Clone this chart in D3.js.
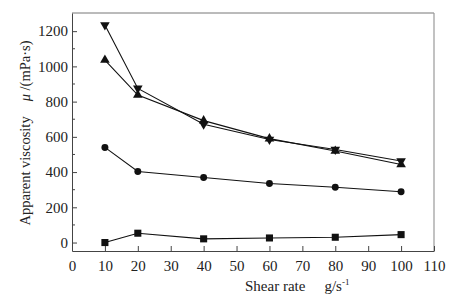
<!DOCTYPE html>
<html>
<head>
<meta charset="utf-8">
<script src="https://cdn.jsdelivr.net/npm/d3@7"></script>
<style>
body { margin: 0; background: #fff; }
svg text { font-family: 'Liberation Serif', 'Times New Roman', serif; }
</style>
</head>
<body>
<svg id="chart" width="457" height="301"></svg>
<script>
// shear rate values (x)
const shearRates = [10, 20, 40, 60, 80, 100];
// apparent viscosity, one array per curve
const downTriangleSeries = [1235, 875, 672, 585, 528, 463];
const upTriangleSeries = [1036, 837, 692, 590, 520, 443];
const circleSeries = [540, 403, 369, 335, 314, 288];
const squareSeries = [0, 53, 21, 26, 30, 45];
const xTicks = [0, 10, 20, 30, 40, 50, 60, 70, 80, 90, 100, 110];
const yTicks = [0, 200, 400, 600, 800, 1000, 1200];
const yMinorTicks = [100, 300, 500, 700, 900, 1100];

var svg = d3.select("#chart");
var margin = {top: 13, right: 23, bottom: 50, left: 72};
var width = 457 - margin.left - margin.right;
var height = 301 - margin.top - margin.bottom;

var g = svg.append("g")
    .attr("transform", "translate(" + margin.left + "," + margin.top + ")");

var x = d3.scaleLinear().domain([0, 110]).range([0, width]);
var y = d3.scaleLinear().domain([-48, 1303]).range([height, 0]);

// frame
g.append("line").attr("x1", 0).attr("x2", width).attr("y1", 0).attr("y2", 0)
    .attr("stroke", "#777").attr("stroke-width", 1);
g.append("line").attr("x1", width).attr("x2", width).attr("y1", 0).attr("y2", height)
    .attr("stroke", "#999").attr("stroke-width", 1.2);

var xAxis = g.append("g")
    .attr("transform", "translate(0," + height + ")")
    .call(d3.axisBottom(x).tickValues(xTicks).tickFormat(d3.format("d"))
        .tickSize(-5).tickPadding(9).tickSizeOuter(0))
    .attr("font-size", 15);
xAxis.select(".domain").attr("stroke", "#444");
xAxis.selectAll(".tick line").attr("stroke", "#444");
xAxis.selectAll("text").attr("fill", "#222");

var yAxis = g.append("g")
    .call(d3.axisLeft(y).tickValues(yTicks).tickFormat(d3.format("d"))
        .tickSize(-5).tickPadding(4).tickSizeOuter(0))
    .attr("font-size", 15);
yAxis.select(".domain").attr("stroke", "#444");
yAxis.selectAll(".tick line").attr("stroke", "#444");
yAxis.selectAll("text").attr("fill", "#222");

g.selectAll(".yminor")
    .data(yMinorTicks)
    .enter()
    .append("line")
    .attr("class", "yminor")
    .attr("x1", 0).attr("x2", 3)
    .attr("y1", d => y(d)).attr("y2", d => y(d))
    .attr("stroke", "#444");

var line = d3.line()
    .x((d, i) => x(shearRates[i]))
    .y(d => y(d));

var series = [
    {values: squareSeries, symbol: d3.symbolSquare, size: 50, rot: 0},
    {values: circleSeries, symbol: d3.symbolCircle, size: 38, rot: 0},
    {values: upTriangleSeries, symbol: d3.symbolTriangle, size: 40, rot: 0},
    {values: downTriangleSeries, symbol: d3.symbolTriangle, size: 40, rot: 180}
];

series.forEach(s => {
    g.append("path")
        .datum(s.values)
        .attr("d", line)
        .attr("fill", "none")
        .attr("stroke", "#111")
        .attr("stroke-width", 1.1);
    g.selectAll(null)
        .data(s.values)
        .enter()
        .append("path")
        .attr("d", d3.symbol().type(s.symbol).size(s.size))
        .attr("transform", (d, i) => "translate(" + x(shearRates[i]) + "," + y(d) + ") rotate(" + s.rot + ")")
        .attr("fill", "#111");
});

// axis labels
var xl = svg.append("text")
    .attr("x", 245)
    .attr("y", 291)
    .attr("font-size", 15)
    .attr("fill", "#222");
xl.append("tspan").text("Shear rate");
xl.append("tspan").attr("dx", 19).text("g");
xl.append("tspan").text("/s");
xl.append("tspan").attr("dy", -6).attr("font-size", 9).text("-1");

var yl = svg.append("text")
    .attr("transform", "translate(30,133) rotate(-90)")
    .attr("text-anchor", "middle")
    .attr("font-size", 14.5)
    .attr("fill", "#222");
yl.append("tspan").text("Apparent viscosity");
yl.append("tspan").attr("dx", 15).attr("font-style", "italic").text("μ");
yl.append("tspan").text(" /(mPa·s)");
</script>
</body>
</html>
